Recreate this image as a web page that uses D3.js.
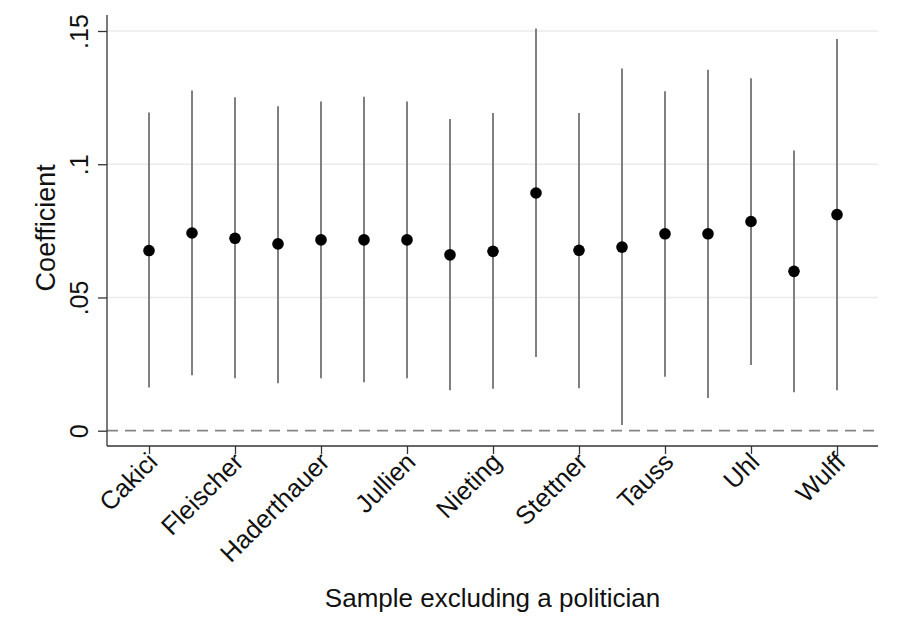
<!DOCTYPE html>
<html>
<head>
<meta charset="utf-8">
<script src="https://cdn.jsdelivr.net/npm/d3@7"></script>
<style>
  html, body { margin: 0; padding: 0; background: #fff; }
  svg { display: block; font-family: "Liberation Sans", Arial, sans-serif; }
</style>
</head>
<body>
<svg id="chart" width="901" height="639"></svg>
<script>
// Data
const positions = [1,2,3,4,5,6,7,8,9,10,11,12,13,14,15,16,17];
const coef  = [0.0676,0.0742,0.0722,0.0701,0.0716,0.0716,0.0716,0.0660,0.0673,0.0892,0.0677,0.0689,0.0739,0.0739,0.0785,0.0598,0.0811];
const lower = [0.0162,0.0208,0.0197,0.0178,0.0197,0.0182,0.0197,0.0152,0.0157,0.0277,0.0159,0.0021,0.0202,0.0123,0.0247,0.0144,0.0152];
const upper = [0.1194,0.1277,0.1251,0.1218,0.1235,0.1253,0.1235,0.1170,0.1192,0.1509,0.1192,0.1359,0.1274,0.1355,0.1323,0.1052,0.1470];
const xTickPos = [1,3,5,7,9,11,13,15,17];
const xTickLabels = ["Cakici","Fleischer","Haderthauer","Jullien","Nieting","Stettner","Tauss","Uhl","Wulff"];
const yTicks = [0, 0.05, 0.1, 0.15];
const yTickLabels = ["0", ".05", ".1", ".15"];
const xTitle = "Sample excluding a politician";
const yTitle = "Coefficient";

const svg = d3.select("#chart");
const plot = { left: 107, right: 878, top: 15, bottom: 446 };

const x = d3.scaleLinear().domain([1, 17]).range([149, 837]);
const y = d3.scaleLinear().domain([0, 0.15]).range([430.7, 31]);

// gridlines
svg.append("g").selectAll("line")
  .data(yTicks.filter(d => d > 0))
  .join("line")
  .attr("x1", plot.left).attr("x2", plot.right)
  .attr("y1", d => y(d)).attr("y2", d => y(d))
  .attr("stroke", "#ebebeb").attr("stroke-width", 1.5);

// zero reference line (dashed)
svg.append("line")
  .attr("x1", plot.left).attr("x2", plot.right)
  .attr("y1", y(0)).attr("y2", y(0))
  .attr("stroke", "#858585").attr("stroke-width", 1.8)
  .attr("stroke-dasharray", "11,7");

// Y axis
const yAxis = d3.axisLeft(y).tickValues(yTicks).tickSize(9)
  .tickFormat((d, i) => yTickLabels[i]);
const gy = svg.append("g").attr("transform", `translate(${plot.left},0)`).call(yAxis);
gy.select(".domain").remove();
gy.selectAll(".tick line").attr("stroke", "#333").attr("stroke-width", 1.3);
gy.selectAll(".tick text")
  .attr("transform", "rotate(-90)")
  .attr("x", 0).attr("y", -19).attr("dy", 0)
  .attr("text-anchor", "middle")
  .attr("fill", "#111")
  .style("font-size", "25px")
  .style("font-family", "'Liberation Sans', Arial, sans-serif");
svg.append("line")
  .attr("x1", plot.left).attr("x2", plot.left)
  .attr("y1", plot.top).attr("y2", plot.bottom)
  .attr("stroke", "#333").attr("stroke-width", 1.3);

// X axis
const xAxis = d3.axisBottom(x).tickValues(xTickPos).tickSize(8)
  .tickFormat((d, i) => xTickLabels[i]);
const gx = svg.append("g").attr("transform", `translate(0,${plot.bottom})`).call(xAxis);
gx.select(".domain").remove();
gx.selectAll(".tick line").attr("stroke", "#333").attr("stroke-width", 1.3);
gx.selectAll(".tick text")
  .attr("y", 0).attr("dy", "0.36em")
  .attr("transform", "translate(3,11) rotate(-45)")
  .attr("text-anchor", "end")
  .attr("fill", "#111")
  .style("font-size", "25.5px")
  .style("font-family", "'Liberation Sans', Arial, sans-serif");
svg.append("line")
  .attr("x1", plot.left).attr("x2", plot.right)
  .attr("y1", plot.bottom).attr("y2", plot.bottom)
  .attr("stroke", "#333").attr("stroke-width", 1.3);

// error bars
svg.append("g").selectAll("line")
  .data(positions)
  .join("line")
  .attr("x1", (d) => x(d)).attr("x2", (d) => x(d))
  .attr("y1", (d, i) => y(lower[i])).attr("y2", (d, i) => y(upper[i]))
  .attr("stroke", "#7a7a7a").attr("stroke-width", 1.9);

// points
svg.append("g").selectAll("circle")
  .data(positions)
  .join("circle")
  .attr("cx", d => x(d))
  .attr("cy", (d, i) => y(coef[i]))
  .attr("r", 5.8)
  .attr("fill", "#000");

// axis titles
svg.append("text")
  .attr("transform", `translate(55,${(y(0.15) + y(0)) / 2 - 3}) rotate(-90)`)
  .attr("text-anchor", "middle")
  .attr("fill", "#111")
  .style("font-size", "27px")
  .text(yTitle);

svg.append("text")
  .attr("x", (plot.left + plot.right) / 2)
  .attr("y", 606.5)
  .attr("text-anchor", "middle")
  .attr("fill", "#111")
  .style("font-size", "26px")
  .text(xTitle);
</script>
</body>
</html>
